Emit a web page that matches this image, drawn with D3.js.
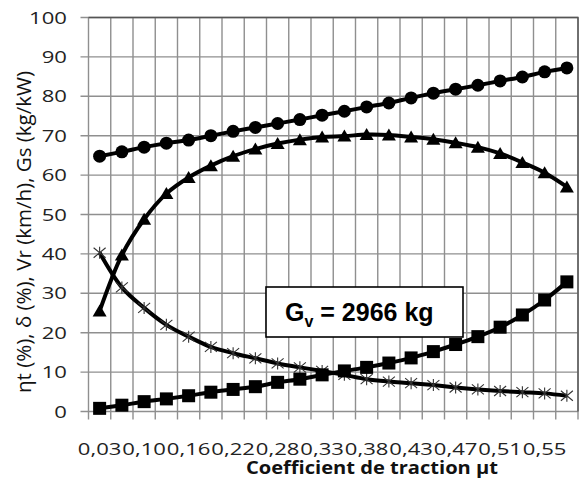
<!DOCTYPE html>
<html>
<head>
<meta charset="utf-8">
<script src="https://cdn.jsdelivr.net/npm/d3@7"></script>
<style>
  body { margin: 0; background: #fff; }
  svg { display: block; }
</style>
</head>
<body>
<script>
// categories (traction coefficient), only every other one is labelled
var cats = ["0,03","0,07","0,10","0,13","0,16","0,19","0,22","0,25","0,28","0,31","0,33",
            "0,36","0,38","0,41","0,43","0,45","0,47","0,49","0,51","0,53","0,55","0,57"]

// series
var gs    = [64.8,65.9,67.1,68.1,68.9,70.0,71.1,72.1,73.1,74.1,75.2,76.2,77.3,78.3,79.6,80.8,81.8,82.8,83.9,84.9,86.2,87.2]
var eta   = [25.5,39.7,48.8,55.3,59.4,62.4,64.8,66.6,68.0,69.0,69.7,69.9,70.3,70.2,69.7,69.1,68.2,67.1,65.5,63.2,60.6,57.0]
var delta = [0.8,1.6,2.5,3.2,4.0,4.9,5.6,6.3,7.4,8.2,9.3,10.3,11.2,12.3,13.6,15.2,17.0,19.0,21.4,24.5,28.3,32.9]
var vr    = [40.3,31.5,26.3,22.0,19.0,16.4,14.8,13.5,12.2,11.2,10.3,9.3,8.2,7.6,7.2,6.7,6.1,5.6,5.2,4.9,4.6,4.0]

var yTicks = [0,10,20,30,40,50,60,70,80,90,100]
var yTitle = "ηt (%), δ (%), Vr (km/h), Gs (kg/kW)"
var xTitle = "Coefficient de traction µt"

var W = 581, H = 479
var pL = 88.5, pR = 578, pT = 17.5, pB = 411.5
var sx = 1.3   // the picture is stretched sideways

var svg = d3.select("body").append("svg")
    .attr("width", W).attr("height", H)

var x = d3.scaleBand().domain(cats).range([pL, pR]).padding(0)
var y = d3.scaleLinear().domain([0, 100]).range([pB, pT])
var cx = d => x(d) + x.bandwidth() / 2

var grid = "#8f8f8f"

// horizontal grid + left ticks
svg.append("g").selectAll("line").data(yTicks).join("line")
    .attr("x1", pL - 8).attr("x2", pR)
    .attr("y1", d => y(d)).attr("y2", d => y(d))
    .attr("stroke", grid).attr("stroke-width", 1.4)

// vertical grid at category boundaries + bottom ticks
var bounds = cats.map(c => x(c)).concat([pR])
svg.append("g").selectAll("line").data(bounds).join("line")
    .attr("x1", d => d).attr("x2", d => d)
    .attr("y1", pT).attr("y2", pB + 8)
    .attr("stroke", grid).attr("stroke-width", 1.4)

// plot border (top/right darker)
svg.append("path")
    .attr("d", "M" + pL + "," + pT + "H" + pR + "V" + pB)
    .attr("fill", "none").attr("stroke", "#555").attr("stroke-width", 1.4)

// y tick labels
svg.append("g").selectAll("text").data(yTicks).join("text")
    .attr("transform", d => "translate(67," + y(d) + ") scale(" + sx + ",1)")
    .attr("dy", "0.36em")
    .attr("text-anchor", "end")
    .style("font-family", "'Open Sans', sans-serif")
    .style("font-size", "17px")
    .attr("fill", "#222")
    .text(d => d)

// x tick labels (every other category)
svg.append("g").selectAll("text").data(cats.filter((d, i) => i % 2 == 0)).join("text")
    .attr("transform", d => "translate(" + cx(d) + ",455) scale(" + sx + ",1)")
    .attr("text-anchor", "middle")
    .style("font-family", "'Open Sans', sans-serif")
    .style("font-size", "17px")
    .attr("fill", "#222")
    .text(d => d)

// axis titles
svg.append("text")
    .attr("x", 372).attr("y", 474)
    .attr("text-anchor", "middle")
    .attr("textLength", 252).attr("lengthAdjust", "spacingAndGlyphs")
    .style("font-family", "'Open Sans', sans-serif")
    .style("font-size", "18px").style("font-weight", "bold")
    .attr("fill", "#111")
    .text(xTitle)

svg.append("text")
    .attr("transform", "translate(31,232) rotate(-90)")
    .attr("text-anchor", "middle")
    .attr("textLength", 322).attr("lengthAdjust", "spacingAndGlyphs")
    .style("font-family", "'Open Sans', sans-serif")
    .style("font-size", "20px")
    .attr("fill", "#111")
    .text(yTitle)

// series
var line = d3.line()
    .x((d, i) => cx(cats[i]))
    .y(d => y(d))
    .curve(d3.curveCatmullRom.alpha(0.5))

function drawLine(vals){
  svg.append("path").datum(vals)
    .attr("d", line)
    .attr("fill", "none").attr("stroke", "#000").attr("stroke-width", 4)
    .attr("stroke-linejoin", "round")
}

// stars
drawLine(vr)
svg.append("g").selectAll("path").data(vr).join("path")
    .attr("transform", (d, i) => "translate(" + cx(cats[i]) + "," + y(d) + ")")
    .attr("d", "M-6,-5L6,5M-6,5L6,-5M0,-6V6")
    .attr("stroke", "#333").attr("stroke-width", 1.1).attr("fill", "none")

// squares
drawLine(delta)
svg.append("g").selectAll("rect").data(delta).join("rect")
    .attr("x", (d, i) => cx(cats[i]) - 6.5).attr("y", d => y(d) - 6.5)
    .attr("width", 13).attr("height", 13)
    .attr("fill", "#000")

// triangles
drawLine(eta)
svg.append("g").selectAll("path").data(eta).join("path")
    .attr("transform", (d, i) => "translate(" + cx(cats[i]) + "," + y(d) + ")")
    .attr("d", "M0,-6.5L7,5.5L-7,5.5Z")
    .attr("fill", "#000")

// circles
drawLine(gs)
svg.append("g").selectAll("circle").data(gs).join("circle")
    .attr("cx", (d, i) => cx(cats[i])).attr("cy", d => y(d))
    .attr("r", 6.5)
    .attr("fill", "#000")

// annotation box
svg.append("rect")
    .attr("x", 266).attr("y", 287).attr("width", 197).attr("height", 50)
    .attr("fill", "#fff").attr("stroke", "#000").attr("stroke-width", 1.6)

var note = svg.append("text")
    .attr("x", 285).attr("y", 321)
    .style("font-family", "'Liberation Sans', Arial, sans-serif")
    .style("font-weight", "bold")
    .style("font-size", "25px")
    .attr("fill", "#000")
note.append("tspan").text("G")
note.append("tspan").attr("dy", 6).style("font-size", "16px").text("v")
note.append("tspan").attr("dy", -6).text(" = 2966 kg")
</script>
</body>
</html>
